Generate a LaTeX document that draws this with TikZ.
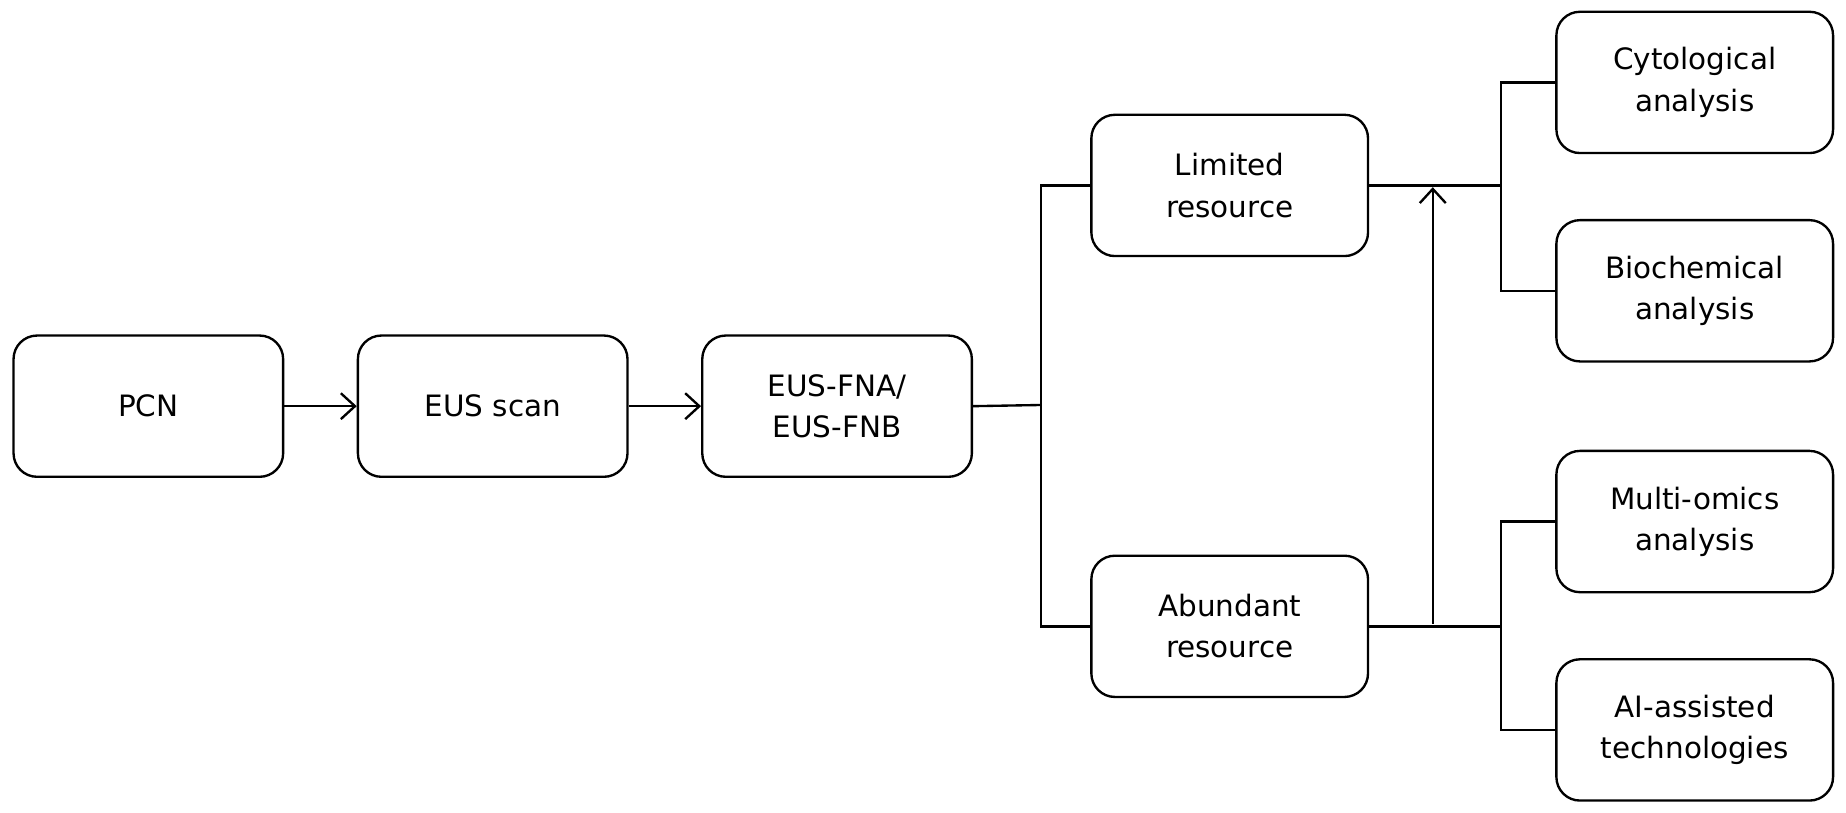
\documentclass[tikz,border=0pt]{standalone}
\usepackage{fontspec}
\setmainfont{DejaVu Sans}
\usetikzlibrary{arrows.meta}
\begin{document}
\begin{tikzpicture}[x=1pt,y=-1pt,
  box/.style={draw,line width=2pt,rounded corners=20pt,minimum width=229pt,minimum height=120pt,align=center,font=\fontsize{25}{35}\selectfont,inner sep=0pt},
  wide/.style={box,minimum width=235pt},
  conn/.style={line width=2pt},
  arr/.style={line width=2pt,-{Straight Barb[length=12pt,width=22pt,line width=2pt]}}]
\useasboundingbox (0,0) rectangle (1568,690.5);
\node[box] (pcn) at (126,345) {PCN};
\node[box] (eus) at (418.5,345) {EUS scan};
\node[box] (fna) at (711,345) {EUS-FNA/\\EUS-FNB};
\node[wide] (lim) at (1044.5,157.5) {Limited\\resource};
\node[wide] (abu) at (1044.5,532) {Abundant\\resource};
\node[wide] (cyt) at (1439.5,70) {Cytological\\analysis};
\node[wide] (bio) at (1439.5,247) {Biochemical\\analysis};
\node[wide] (omi) at (1439.5,443) {Multi-omics\\analysis};
\node[wide] (ai) at (1439.5,620) {AI-assisted\\technologies};
\draw[arr] (pcn.east) -- (eus.west);
\draw[arr] (eus.east) -- (fna.west);
\coordinate (j1) at (884,344);
\draw[conn] (fna.east) -- (j1);
\draw[conn] (lim.west) -| (j1) |- (abu.west);
\coordinate (j2) at (1275,157.5);
\coordinate (j3) at (1275,532);
\draw[conn] (lim.east) -- (j2);
\draw[conn] (cyt.west) -| (j2) |- (bio.west);
\draw[conn] (abu.east) -- (j3);
\draw[conn] (omi.west) -| (j3) |- (ai.west);
\coordinate (a1) at (1217,530);
\coordinate (a2) at (1217,159);
\draw[arr] (a1) -- (a2);
\end{tikzpicture}
\end{document}
